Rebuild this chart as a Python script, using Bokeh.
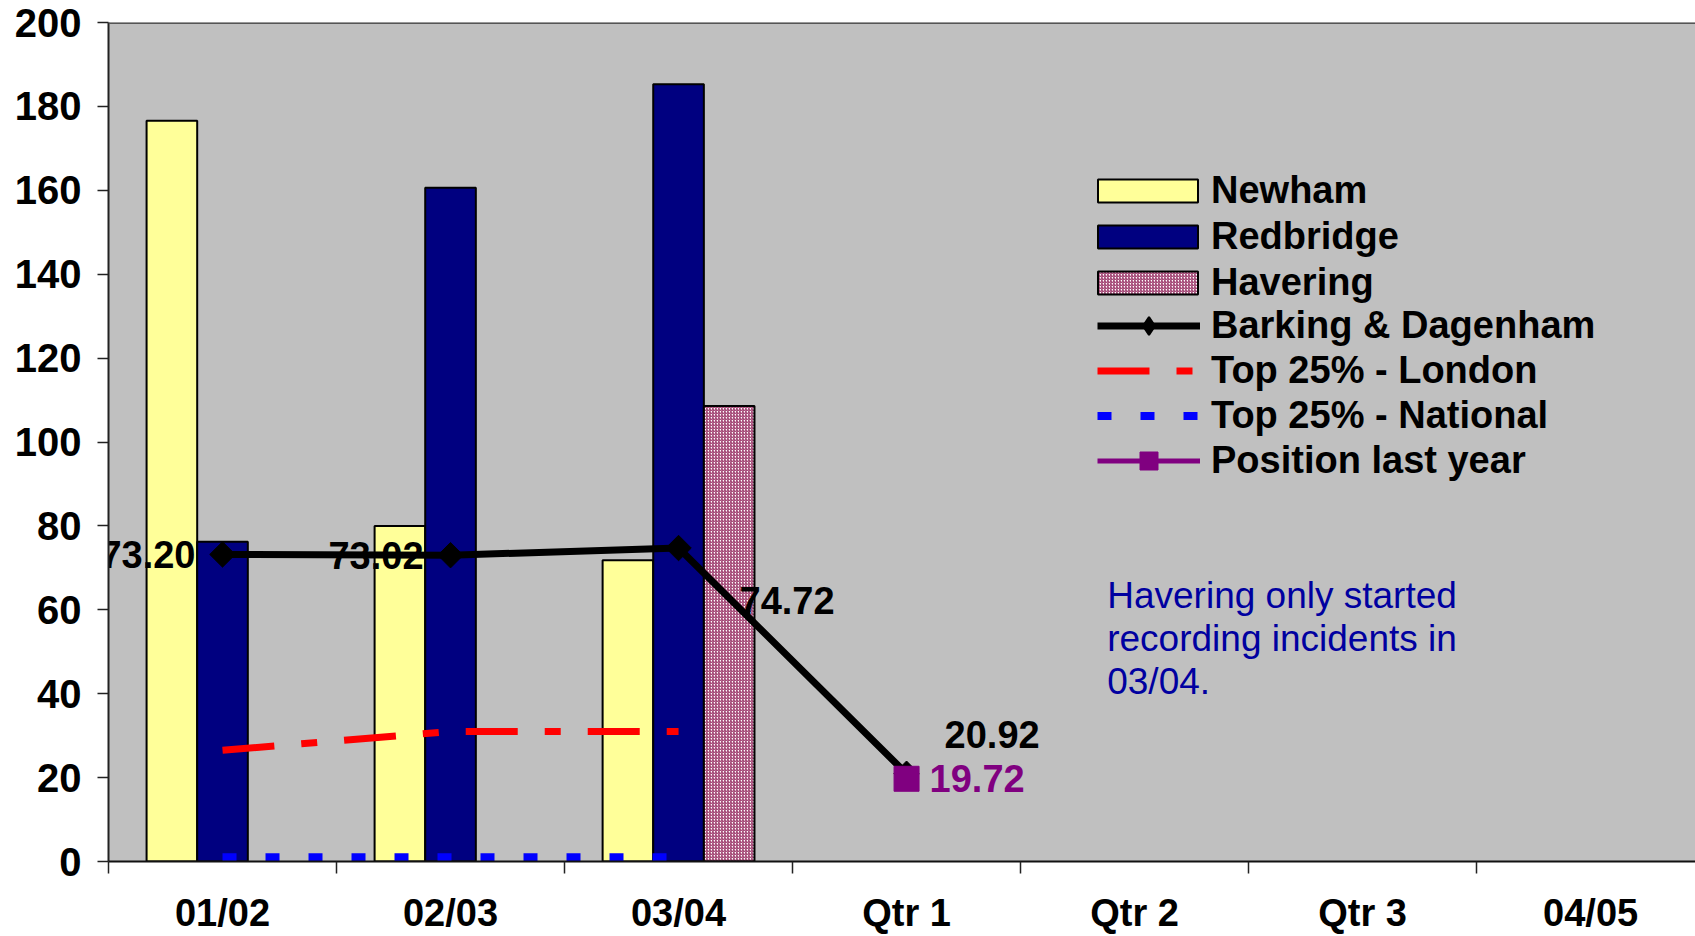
from bokeh.plotting import figure
from bokeh.models import (Range1d, FixedTicker, Legend, LegendItem, Span, Label)
from bokeh.core.properties import value
from bokeh.embed import file_html
from bokeh.resources import INLINE

# ---------------- data ----------------
categories = ["01/02", "02/03", "03/04", "Qtr 1", "Qtr 2", "Qtr 3", "04/05"]
newham_cats = ["01/02", "02/03", "03/04"]
newham = [176.6, 80.0, 71.8]
redbridge_cats = ["01/02", "02/03", "03/04"]
redbridge = [76.2, 160.6, 185.3]
havering_cats = ["03/04"]
havering = [108.6]
barking_cats = ["01/02", "02/03", "03/04", "Qtr 1"]
barking = [73.20, 73.02, 74.72, 20.92]
london_cats = ["01/02", "02/03", "03/04"]
london = [26.5, 31.0, 31.0]
national_cats = ["01/02", "02/03", "03/04"]
national = [1.0, 1.0, 1.0]
lastyear_cats = ["Qtr 1"]
lastyear = [19.72]
y_ticks = [0, 20, 40, 60, 80, 100, 120, 140, 160, 180, 200]
note_text = "Havering only started\nrecording incidents in\n03/04."

FONT = "Liberation Sans"
FS = "38px"


def pos(cats, off=0.0):
    return [categories.index(c) + 0.5 + off for c in cats]


W = 0.222

p = figure(width=1695, height=936, output_backend="svg", toolbar_location=None,
           x_range=Range1d(0, 6.96), y_range=Range1d(0, 200),
           min_border_left=108, min_border_top=22, min_border_right=0,
           min_border_bottom=75, background_fill_color="#C0C0C0",
           border_fill_color="white", outline_line_color=None)
p.xgrid.visible = False
p.ygrid.visible = False

# bars
r_new = p.vbar(x=pos(newham_cats, -W), top=newham, width=W, bottom=0,
               fill_color="#FFFF99", line_color="black", line_width=2)
r_red = p.vbar(x=pos(redbridge_cats, 0), top=redbridge, width=W, bottom=0,
               fill_color="#000080", line_color="black", line_width=2)
r_hav = p.vbar(x=pos(havering_cats, W), top=havering, width=W, bottom=0,
               fill_color="white", hatch_pattern="right_diagonal_line",
               hatch_color="#993366", hatch_scale=3, hatch_weight=1.1,
               line_color="black", line_width=2)

# lines
r_lon = p.line(pos(london_cats), london, line_color="#FF0000", line_width=7,
               line_dash="52 27 16 27", line_cap="butt")
r_nat = p.line(pos(national_cats), national, line_color="#0000FF", line_width=8,
               line_dash="14 29", line_cap="butt")

# data labels for Barking & Dagenham
bd_x = pos(barking_cats)
label_styles = [("right", -27, 0), ("right", -27, 0), ("left", 61, 52), ("left", 38, -39)]
for xv, yv, (align, xo, yo) in zip(bd_x, barking, label_styles):
    p.text(x=[xv], y=[yv], text=["%.2f" % yv], text_align=align,
           text_baseline="middle", x_offset=xo, y_offset=yo,
           text_font=value(FONT), text_font_style="bold", text_font_size=FS,
           text_color="black")

r_bd_line = p.line(bd_x, barking, line_color="black", line_width=7)
r_bd_mark = p.scatter(bd_x, barking, marker="square", angle=0.785398, size=18,
                      fill_color="black", line_color="black")
# legend-only diamond (legend markers are drawn unrotated); its point is not drawn
r_bd_key = p.scatter(x=[float("nan")], y=[float("nan")], marker="diamond", size=20,
                     fill_color="black", line_color="black", line_width=2)

r_ly_line = p.line(pos(lastyear_cats), lastyear, line_color="#800080", line_width=5)
r_ly_mark = p.scatter(pos(lastyear_cats), lastyear, marker="square", size=25,
                      fill_color="#800080", line_color="#800080")
p.text(x=pos(lastyear_cats), y=lastyear, text=["%.2f" % v for v in lastyear],
       text_align="left", text_baseline="middle", x_offset=23, y_offset=0,
       text_font=value(FONT), text_font_style="bold", text_font_size=FS,
       text_color="#800080")

# note
p.add_layout(Label(x=4.38, y=68.2, text=note_text, text_baseline="top",
                   text_align="left", text_font=FONT, text_font_size="37px",
                   text_color="#0000A0", text_line_height=1.05))

# top border line
p.add_layout(Span(location=200, dimension="width", line_color="#555555", line_width=3))

# axes
p.yaxis.ticker = FixedTicker(ticks=y_ticks)
p.yaxis.major_label_text_font = FONT
p.yaxis.major_label_text_font_style = "bold"
p.yaxis.major_label_text_font_size = "40px"
p.yaxis.major_label_text_color = "black"
p.yaxis.major_tick_out = 11
p.yaxis.major_tick_in = 0
p.yaxis.minor_tick_out = 0
p.yaxis.minor_tick_in = 0
p.yaxis.major_label_standoff = 16
p.yaxis.axis_line_color = "#222222"
p.yaxis.axis_line_width = 2
p.yaxis.major_tick_line_color = "#222222"
p.yaxis.major_tick_line_width = 1.5

centers = [i + 0.5 for i in range(len(categories))]
p.xaxis.ticker = FixedTicker(ticks=centers, minor_ticks=list(range(len(categories) + 1)))
p.xaxis.major_label_overrides = {c: lab for c, lab in zip(centers, categories)}
p.xaxis.major_label_text_font = FONT
p.xaxis.major_label_text_font_style = "bold"
p.xaxis.major_label_text_font_size = FS
p.xaxis.major_label_text_color = "black"
p.xaxis.major_tick_out = 0
p.xaxis.major_tick_in = 0
p.xaxis.minor_tick_out = 12
p.xaxis.minor_tick_in = 0
p.xaxis.minor_tick_line_color = "#222222"
p.xaxis.minor_tick_line_width = 1.5
p.xaxis.major_label_standoff = 18
p.xaxis.axis_line_color = "#111111"
p.xaxis.axis_line_width = 2


def style_legend(lg, glyph_w, glyph_h, spacing, standoff):
    lg.background_fill_alpha = 0
    lg.border_line_color = None
    lg.padding = 0
    lg.margin = 0
    lg.spacing = spacing
    lg.glyph_width = glyph_w
    lg.glyph_height = glyph_h
    lg.label_height = 42
    lg.label_standoff = standoff
    lg.label_text_font = FONT
    lg.label_text_font_style = "bold"
    lg.label_text_font_size = FS
    lg.label_text_color = "black"
    lg.label_text_baseline = "middle"


legend_bars = Legend(items=[
    LegendItem(label="Newham", renderers=[r_new]),
    LegendItem(label="Redbridge", renderers=[r_red]),
    LegendItem(label="Havering", renderers=[r_hav]),
], location=(977, 557), orientation="vertical")
style_legend(legend_bars, 125, 29, 3, 1)

legend_lines = Legend(items=[
    LegendItem(label="Barking & Dagenham", renderers=[r_bd_line, r_bd_key]),
    LegendItem(label="Top 25% - London", renderers=[r_lon]),
    LegendItem(label="Top 25% - National", renderers=[r_nat]),
    LegendItem(label="Position last year", renderers=[r_ly_line, r_ly_mark]),
], location=(989, 378), orientation="vertical")
style_legend(legend_lines, 103, 45, 0, 11)

p.add_layout(legend_bars)
p.add_layout(legend_lines)

open("out.html", "w").write(file_html(p, INLINE))
